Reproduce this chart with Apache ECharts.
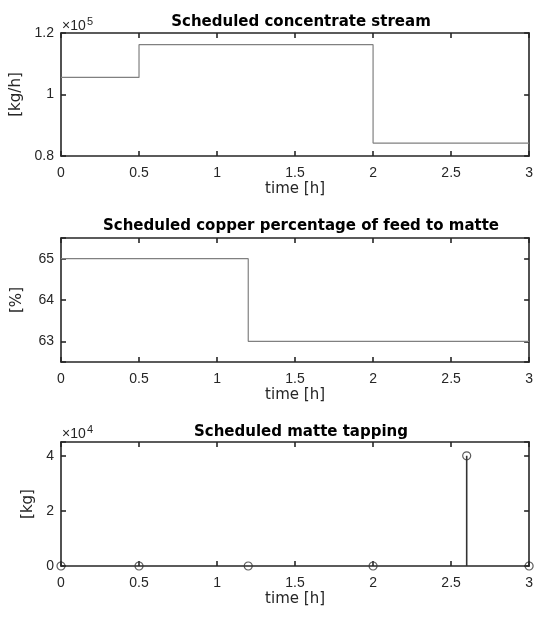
<!DOCTYPE html>
<html><head><meta charset="utf-8">
<script src="https://cdn.jsdelivr.net/npm/echarts@6/dist/echarts.min.js"></script>
<style>html,body{margin:0;padding:0;background:#fff}#c{width:536px;height:619px}</style>
</head><body><div id="c"></div>
<script>
// Panel 1: scheduled concentrate stream (stairs)
const feedTimes = [0, 0.5, 2, 3];
const feedValues = [105550, 116200, 84200, 84200];
// Panel 2: copper percentage (stairs)
const cuTimes = [0, 1.2, 3];
const cuValues = [65, 63, 63];
// Panel 3: matte tapping (stem)
const tapTimes = [0, 0.5, 1.2, 2, 2.6, 3];
const tapValues = [0, 0, 0, 0, 40000, 0];

const titles = ['Scheduled concentrate stream', 'Scheduled copper percentage of feed to matte', 'Scheduled matte tapping'];
const yNames = ['[kg/h]', '[%]', '[kg]'];
const xName = 'time [h]';

const FONT = '"Liberation Sans", Arial, Helvetica, sans-serif';
const WFONT = '"DejaVu Sans", Verdana, sans-serif';
const INK = '#262626';
const LW = 1.6;
const grids = [
  {left: 61, width: 470, top: 33, height: 123},
  {left: 61, width: 470, top: 238, height: 124},
  {left: 61, width: 470, top: 442, height: 124}
];
const titleTops = [10, 214, 420];
const yAxisCfg = [
  {min: 80000, max: 120000, interval: 20000, fmt: v => String(+(v / 1e5).toFixed(2))},
  {min: 62.5, max: 65.5, splitNumber: 3, fmt: v => Number.isInteger(v) ? String(v) : ''},
  {min: 0, max: 45000, interval: 20000, fmt: v => (v % 20000 === 0) ? String(v / 1e4) : ''}
];
const yNameGaps = [33, 36, 21];

const tickStyle = {show: true, inside: true, length: 5, lineStyle: {color: INK, width: LW}};
const lineStyleAxis = {show: true, onZero: false, lineStyle: {color: INK, width: LW}};

const xAxes = [], yAxes = [];
grids.forEach((g, i) => {
  xAxes.push({
    type: 'value', gridIndex: i, min: 0, max: 3, interval: 0.5,
    name: xName, nameLocation: 'middle', nameGap: 26,
    nameTextStyle: {fontFamily: WFONT, fontSize: 15, color: INK},
    axisLine: lineStyleAxis, axisTick: tickStyle,
    axisLabel: {fontFamily: FONT, fontSize: 14, color: INK, margin: 10, formatter: v => String(v)},
    splitLine: {show: false}
  });
  xAxes.push({
    type: 'value', gridIndex: i, min: 0, max: 3, interval: 0.5, position: 'top',
    axisLine: lineStyleAxis, axisTick: tickStyle,
    axisLabel: {show: false}, splitLine: {show: false}
  });
  const c = yAxisCfg[i];
  const base = {type: 'value', gridIndex: i, min: c.min, max: c.max, axisLine: lineStyleAxis, axisTick: tickStyle, splitLine: {show: false}};
  if (c.interval) base.interval = c.interval;
  if (c.splitNumber) base.splitNumber = c.splitNumber;
  yAxes.push(Object.assign({}, base, {
    position: 'left',
    name: yNames[i], nameLocation: 'middle', nameGap: yNameGaps[i], nameRotate: 90,
    nameTextStyle: {fontFamily: WFONT, fontSize: 15, color: INK},
    axisLabel: {fontFamily: FONT, fontSize: 14, color: INK, margin: 7, formatter: c.fmt}
  }));
  yAxes.push(Object.assign({}, base, {position: 'right', axisLabel: {show: false}}));
});

const pairs = (t, v) => t.map((x, k) => [x, v[k]]);

const series = [
  {type: 'line', step: 'end', xAxisIndex: 0, yAxisIndex: 0, data: pairs(feedTimes, feedValues),
   showSymbol: false, lineStyle: {color: '#808080', width: 1.2}, silent: true, z: 1},
  {type: 'line', step: 'end', xAxisIndex: 2, yAxisIndex: 2, data: pairs(cuTimes, cuValues),
   showSymbol: false, lineStyle: {color: '#808080', width: 1.2}, silent: true, z: 1},
  {type: 'custom', xAxisIndex: 4, yAxisIndex: 4, data: pairs(tapTimes, tapValues), silent: true, z: 3,
   renderItem: function (params, api) {
     const p0 = api.coord([api.value(0), 0]);
     const p1 = api.coord([api.value(0), api.value(1)]);
     return {type: 'line', shape: {x1: p0[0], y1: p0[1], x2: p1[0], y2: p1[1]},
             style: {stroke: '#333333', lineWidth: 1.6}};
   }},
  {type: 'scatter', xAxisIndex: 4, yAxisIndex: 4, data: pairs(tapTimes, tapValues),
   symbol: 'circle', symbolSize: 8, clip: false,
   itemStyle: {color: 'rgba(255,255,255,0)', borderColor: '#333333', borderWidth: 1.2}, silent: true, z: 5}
];

const title = titles.map((t, i) => ({
  text: t, left: 296, textAlign: 'center', top: titleTops[i],
  textStyle: {fontFamily: WFONT, fontSize: 15, fontWeight: 'bold', color: '#000'}
}));

function expo(p, baseY, supY) {
  return [
    {type: 'text', x: 62, y: baseY, silent: true,
     style: {text: '×10', fontFamily: FONT, fontSize: 14, fill: INK, verticalAlign: 'bottom'}},
    {type: 'text', x: 87, y: supY, silent: true,
     style: {text: p, fontFamily: FONT, fontSize: 11, fill: INK, verticalAlign: 'top'}}
  ];
}

const chart = echarts.init(document.getElementById('c'), null, {renderer: 'canvas'});
chart.setOption({
  animation: false,
  backgroundColor: '#fff',
  title: title,
  grid: grids,
  xAxis: xAxes,
  yAxis: yAxes,
  series: series,
  graphic: expo('5', 33, 16).concat(expo('4', 441, 424))
});
</script></body></html>
